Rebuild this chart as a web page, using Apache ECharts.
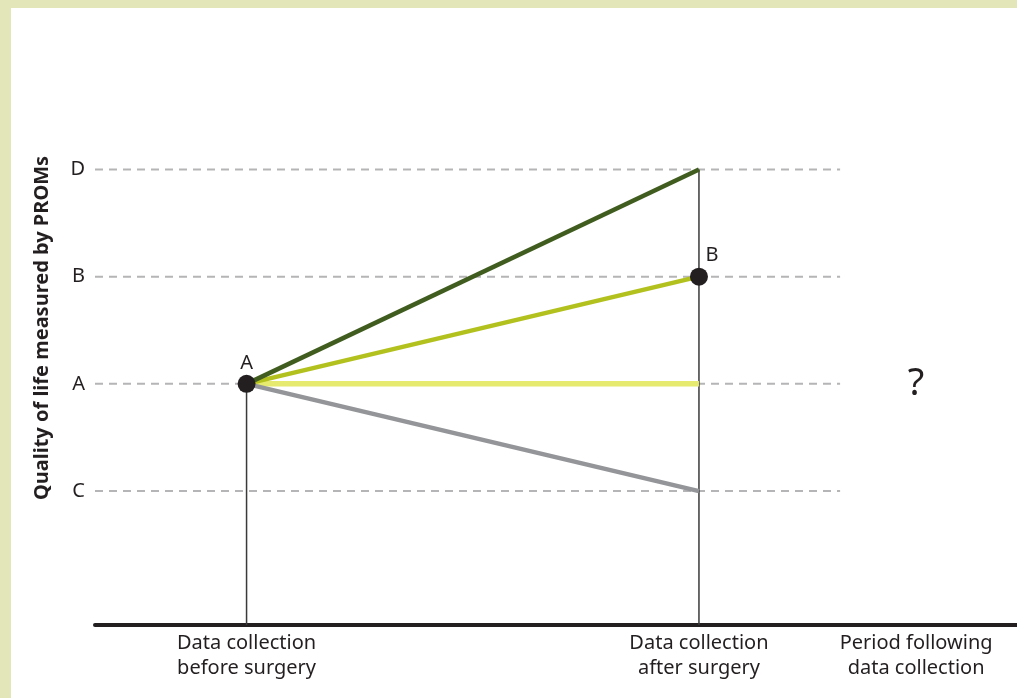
<!DOCTYPE html>
<html>
<head>
<meta charset="UTF-8">
<title>PROMs</title>
<script src="https://cdn.jsdelivr.net/npm/echarts@6/dist/echarts.min.js"></script>
<style>
  body { margin: 0; background: #e3e6b9; }
  #main { position: absolute; left: 11px; top: 8px; width: 1006px; height: 690px; background: #fff; }
</style>
</head>
<body>
<div id="main"></div>
<script>
// time points along the bottom
var stages = ['Data collection\nbefore surgery', 'Data collection\nafter surgery', 'Period following\ndata collection'];
var stageX = [1, 2, 2.48];

// quality of life levels
var levels = ['C', 'A', 'B', 'D'];
var levelY = [1, 2, 3, 4];

// every outcome starts at A before surgery and ends at one of these
var startLevel = 'A';
var endLevels = ['D', 'B', 'A', 'C'];
var endColors = ['#405d1f', '#b3c11f', '#e6ea6e', '#939598'];
var endWidths = [4.5, 4.5, 5.5, 4.5];

// labelled points
var markedLevels = ['A', 'B'];
var markedStage = [0, 1];

function lv(name) { return levelY[levels.indexOf(name)]; }

var xMin = 0.665, xMax = 2.703;
var yMin = -0.249, yMax = 4.2;
var dashEnd = 2.312;
var font = 'Noto Sans';
var ink = '#231f20';

var myChart = echarts.init(document.getElementById('main'));

var series = [];

// dashed guide lines for each level
levels.forEach(function (name) {
  series.push({
    type: 'line',
    silent: true,
    symbol: 'none',
    z: 1,
    lineStyle: { color: '#b5b5b7', width: 2, type: [8, 6] },
    data: [[xMin, lv(name)], [dashEnd, lv(name)]]
  });
});

// vertical drop lines at the two collection points
series.push({
  type: 'line', silent: true, symbol: 'none', z: 2,
  lineStyle: { color: '#3a3a3a', width: 1.5 },
  data: [[stageX[0], yMin], [stageX[0], lv(startLevel)]]
});
series.push({
  type: 'line', silent: true, symbol: 'none', z: 2,
  lineStyle: { color: '#3a3a3a', width: 1.5 },
  data: [[stageX[1], yMin], [stageX[1], Math.max.apply(null, endLevels.map(lv))]]
});

// outcome lines, drawn lightest first
[2, 3, 1, 0].forEach(function (i) {
  series.push({
    type: 'line', silent: true, symbol: 'none', z: 3,
    lineStyle: { color: endColors[i], width: endWidths[i] },
    data: [[stageX[0], lv(startLevel)], [stageX[1], lv(endLevels[i])]]
  });
});

// black points with letters
series.push({
  type: 'scatter', z: 5, symbolSize: 18, silent: true,
  itemStyle: { color: ink, opacity: 1 },
  label: {
    show: true, position: 'top', distance: 2,
    fontFamily: font, fontSize: 20, color: ink,
    formatter: function (p) { return p.name; }
  },
  data: markedLevels.map(function (name, i) {
    return {
      name: name,
      value: [stageX[markedStage[i]], lv(name)],
      label: i === 1 ? { offset: [13, 0] } : {}
    };
  })
});

// unknown outcome in the following period
series.push({
  type: 'scatter', z: 5, symbolSize: 0, silent: true,
  itemStyle: { opacity: 1 },
  label: {
    show: true, position: 'inside', formatter: '?',
    fontFamily: font, fontSize: 38, color: ink
  },
  data: [[stageX[2], lv(startLevel)]]
});

var option = {
  animation: false,
  grid: { left: 84, right: 0, top: 140, bottom: 73 },
  xAxis: {
    type: 'value',
    min: xMin, max: xMax,
    splitLine: { show: false },
    axisTick: { show: false },
    axisLine: { show: true, onZero: false, lineStyle: { color: ink, width: 4 } },
    axisLabel: {
      customValues: stageX,
      margin: 6,
      fontFamily: font, fontSize: 20, color: ink, lineHeight: 25,
      formatter: function (v) { return stages[stageX.indexOf(v)]; }
    }
  },
  yAxis: {
    type: 'value',
    min: yMin, max: yMax,
    splitLine: { show: false },
    axisTick: { show: false },
    axisLine: { show: false },
    axisLabel: {
      customValues: levelY,
      margin: 10,
      fontFamily: font, fontSize: 20, color: ink,
      formatter: function (v) { return levels[levelY.indexOf(v)]; }
    }
  },
  graphic: [{
    type: 'text',
    x: 31, y: 320,
    rotation: Math.PI / 2,
    style: {
      text: 'Quality of life measured by PROMs',
      font: 'bold 20px "Noto Sans"',
      fill: ink,
      textAlign: 'center',
      textVerticalAlign: 'middle'
    }
  }],
  series: series
};

myChart.setOption(option);
</script>
</body>
</html>
